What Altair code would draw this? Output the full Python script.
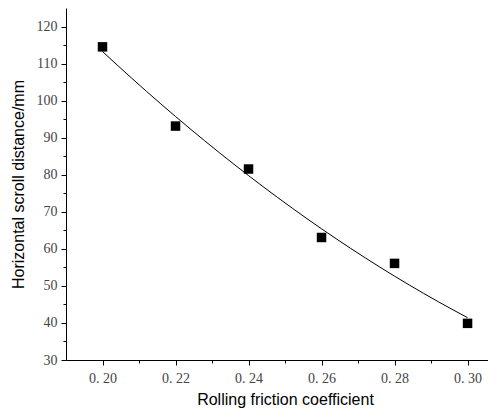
import altair as alt
import pandas as pd

friction = [0.20, 0.22, 0.24, 0.26, 0.28, 0.30]
distance = [114.6, 93.2, 81.6, 63.1, 56.1, 39.9]

x_ticks = [0.20, 0.21, 0.22, 0.23, 0.24, 0.25, 0.26, 0.27, 0.28, 0.29, 0.30]
y_ticks = [30, 35, 40, 45, 50, 55, 60, 65, 70, 75, 80, 85, 90, 95, 100, 105, 110, 115, 120]

df = pd.DataFrame({"x": friction, "y": distance})

xscale = alt.Scale(domain=[0.19, 0.3056], nice=False, zero=False)
yscale = alt.Scale(domain=[30, 125.1], nice=False, zero=False)

serif = "Liberation Serif, DejaVu Serif, serif"
x_major_test = "round(datum.value * 100) % 2 == 0"
y_major_test = "datum.value % 10 == 0"

x_axis = alt.Axis(values=x_ticks, orient="bottom",
                  tickSize={"condition": {"test": x_major_test, "value": 5}, "value": 3},
                  tickWidth=1, tickColor="black", domainWidth=1, domainColor="black", grid=False,
                  labelExpr="round(datum.value * 100) % 2 == 0 ? replace(format(datum.value, '.2f'), '.', '. ') : ''",
                  labelFont=serif, labelFontSize=14, labelColor="#444",
                  labelPadding=6, title="Rolling friction coefficient",
                  titleFont="Liberation Sans", titleFontSize=16, titleFontWeight="normal",
                  titleColor="black", titlePadding=6, titleX=219)
y_axis = alt.Axis(values=y_ticks, orient="left",
                  tickSize={"condition": {"test": y_major_test, "value": 5}, "value": 3},
                  tickWidth=1, tickColor="black", domainWidth=1, domainColor="black", grid=False,
                  labelExpr="datum.value % 10 == 0 ? format(datum.value, 'd') : ''",
                  labelFont=serif, labelFontSize=14, labelColor="#444",
                  labelPadding=4, title="Horizontal scroll distance/mm",
                  titleFont="Liberation Sans", titleFontSize=16, titleFontWeight="normal",
                  titleColor="black", titlePadding=10)

fit = alt.Chart(df).transform_regression(
    "x", "y", method="poly", order=2, extent=[0.20, 0.30]
).mark_line(color="black", strokeWidth=1).encode(
    x=alt.X("x:Q", scale=xscale, axis=x_axis),
    y=alt.Y("y:Q", scale=yscale, axis=y_axis),
)

pts = alt.Chart(df).mark_square(color="black", size=90, opacity=1).encode(
    x=alt.X("x:Q", scale=xscale, axis=x_axis),
    y=alt.Y("y:Q", scale=yscale, axis=y_axis),
)

chart = alt.layer(fit, pts).properties(
    width=422, height=352,
    autosize=alt.AutoSizeParams(type="none"),
    padding={"left": 58, "top": 0, "right": 0, "bottom": 56},
).configure_view(
    strokeWidth=0, stroke="transparent"
).configure(
    background="white",
    style={"cell": {"stroke": "transparent", "strokeWidth": 0}},
)

chart.save("out.html", embed_options={"renderer": "svg", "actions": False})
